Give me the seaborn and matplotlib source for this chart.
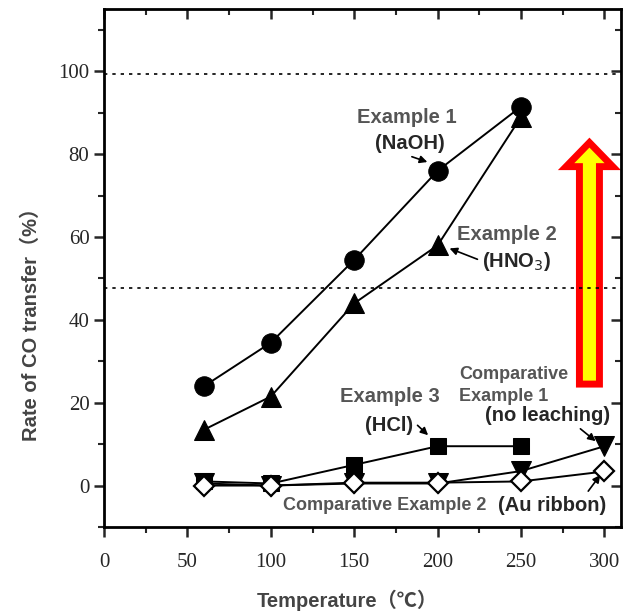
import numpy as np
import pandas as pd
import seaborn as sns
import matplotlib.pyplot as plt
from matplotlib.patches import FancyArrow

temps = [60, 100, 150, 200, 250, 300]
ex1 = [24, 34.5, 54.5, 76, 91.5]
ex2 = [13.5, 21.5, 44, 58, 89]
ex3 = [1, 0.5, 5, 9.5, 9.5]
comp1 = [0.5, 0, 0.5, 0.5, 3.5, 9.5]
comp2 = [0, 0, 0.7, 0.7, 1.0, 3.4]
ref_lines = [99.3, 47.7]

sns.set_style('ticks')
plt.rcParams['font.family'] = ['Liberation Sans', 'Noto Sans CJK SC', 'DejaVu Sans']

fig = plt.figure(figsize=(6.23, 6.16), dpi=100)
ax = fig.add_axes([0.167, 0.1445, 0.83, 0.8405])

line_kw = dict(color='black', linewidth=1.4, markeredgecolor='black', ax=ax)
sns.lineplot(x=temps[:5], y=ex1, marker='o', markersize=14, **line_kw)
sns.lineplot(x=temps[:5], y=ex2, marker='^', markersize=14, **line_kw)
sns.lineplot(x=temps, y=comp1, marker='v', markersize=14, **line_kw)
sns.lineplot(x=temps[:5], y=ex3, marker='s', markersize=12, **line_kw)
sns.lineplot(x=temps, y=comp2, marker='D', markersize=10, markerfacecolor='white',
             markeredgewidth=1.6, **line_kw)

for yv in ref_lines:
    ax.axhline(yv, color='black', linestyle=(0, (2, 3)), linewidth=1.2)

ax.set_xlim(0, 310)
ax.set_ylim(-10, 115)
ax.set_xticks(range(0, 301, 50))
ax.set_xticks(range(25, 301, 50), minor=True)
ax.set_yticks(range(0, 101, 20))
ax.set_yticks(range(-10, 115, 20), minor=True)
for s in ax.spines.values():
    s.set_linewidth(2)
    s.set_color('black')
ax.tick_params(which='major', length=7, width=1.8, labelsize=15)
ax.tick_params(which='minor', length=4, width=1.5)
for lab in ax.get_xticklabels() + ax.get_yticklabels():
    lab.set_fontfamily('Liberation Serif')
ax.tick_params(axis='x', pad=12)

# ticks on top / right pointing inward
top = ax.secondary_xaxis('top')
top.set_xticks(range(0, 301, 50))
top.set_xticks(range(25, 301, 50), minor=True)
top.tick_params(which='major', direction='in', length=7, width=1.8, labeltop=False)
top.tick_params(which='minor', direction='in', length=4, width=1.5)
right = ax.secondary_yaxis('right')
right.set_yticks(range(0, 101, 20))
right.set_yticks(range(-10, 115, 20), minor=True)
right.tick_params(which='major', direction='in', length=7, width=1.8, labelright=False)
right.tick_params(which='minor', direction='in', length=4, width=1.5)

ax.set_xlabel('Temperature（℃）', fontsize=14.5, fontweight='bold', color='#444444')
ax.set_ylabel('Rate of CO transfer（%）', fontsize=14.5, fontweight='bold', color='#444444')
ax.xaxis.set_label_coords(0.47, -0.122)
ax.yaxis.set_label_coords(-0.122, 0.40)

gray = '#555555'
arr = dict(arrowstyle='-|>', color='black', lw=1.2, mutation_scale=11)
ax.text(181.7, 88.8, 'Example 1', fontsize=14.5, fontweight='bold', color=gray, ha='center', va='center')
ax.annotate('(NaOH)', xy=(195.4, 77.9), xytext=(183.5, 82.7), fontsize=14.5, fontweight='bold',
            ha='center', va='center', arrowprops=dict(arr, shrinkA=2, relpos=(0.35, 0)))
ax.text(211.6, 60.5, 'Example 2', fontsize=14.5, fontweight='bold', color=gray, ha='left', va='center')
ax.annotate('(HNO$_3$)', xy=(205.6, 57.5), xytext=(226.6, 54.2), fontsize=14.5, fontweight='bold',
            ha='left', va='center', arrowprops=dict(arr, shrinkA=1, relpos=(0, 0.5)))
ax.text(141.5, 21.6, 'Example 3', fontsize=14.5, fontweight='bold', color=gray, ha='left', va='center')
ax.annotate('(HCl)', xy=(195.5, 11.7), xytext=(156.5, 14.6), fontsize=14.5, fontweight='bold',
            ha='left', va='center', arrowprops=dict(arr, shrinkA=1, relpos=(1, 0.7)))
ax.text(213, 26.7, 'Comparative', fontsize=13, fontweight='bold', color=gray, ha='left', va='center')
ax.text(213, 21.4, 'Example 1', fontsize=13, fontweight='bold', color=gray, ha='left', va='center')
ax.annotate('(no leaching)', xy=(296, 10.3), xytext=(228.5, 17), fontsize=14.5, fontweight='bold',
            ha='left', va='center', arrowprops=dict(arr, shrinkA=1, relpos=(0.72, 0)))
ax.text(107.4, -4.7, 'Comparative Example 2', fontsize=13, fontweight='bold', color=gray,
        ha='left', va='center')
ax.annotate('(Au ribbon)', xy=(298.5, 3.1), xytext=(236.4, -4.7), fontsize=14.5, fontweight='bold',
            ha='left', va='center', arrowprops=dict(arr, shrinkA=1, relpos=(0.8, 1)))

big = FancyArrow(291, 24.5, 0, 52.5, width=12, head_width=28, head_length=5.8,
                 length_includes_head=False, facecolor='#ffff00', edgecolor='#ff0000',
                 linewidth=5, joinstyle='miter')
ax.add_patch(big)

fig.savefig('out.png', dpi=100)
